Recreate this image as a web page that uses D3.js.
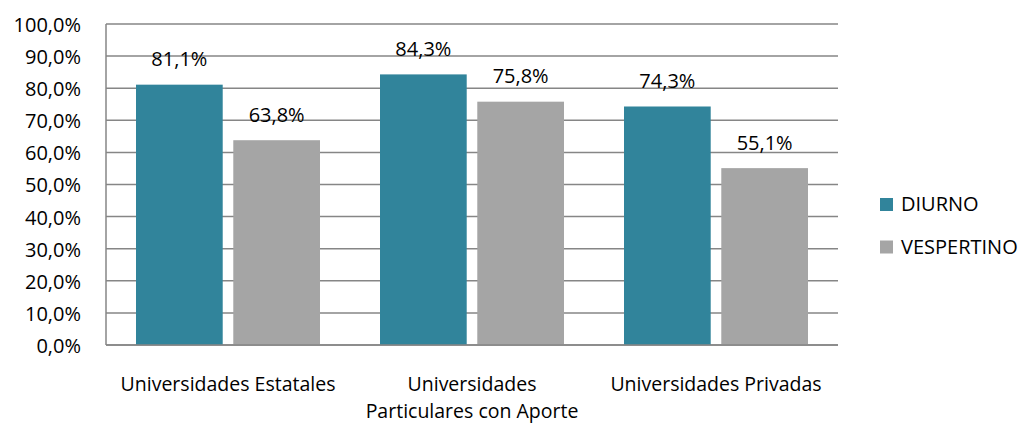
<!DOCTYPE html>
<html><head><meta charset="utf-8">
<script src="https://cdn.jsdelivr.net/npm/d3@7"></script>
<style>body{margin:0;background:#fff}svg{display:block}text{font-family:"Open Sans",sans-serif;fill:#000}</style>
</head><body>
<svg id="c" width="1023" height="423"></svg>
<script>
const categories = [["Universidades Estatales"], ["Universidades", "Particulares con Aporte"], ["Universidades Privadas"]];
const seriesNames = ["DIURNO", "VESPERTINO"];
const diurno = [81.1, 84.3, 74.3];
const vespertino = [63.8, 75.8, 55.1];
const yTicks = [0, 10, 20, 30, 40, 50, 60, 70, 80, 90, 100];
const colors = ["#31849B", "#A5A5A5"];

const FS = 20;
const svg = d3.select("#c");
const L = 106, R = 838, T = 24, B = 345;
const fmt = v => v.toFixed(1).replace(".", ",") + "%";
const x0 = d3.scaleBand().domain(d3.range(categories.length)).range([L, R]).paddingInner(0).paddingOuter(0);
const x1 = d3.scaleBand().domain(seriesNames).range([30, x0.bandwidth() - 30]).paddingInner(20 / 184);
const y = d3.scaleLinear().domain([0, 100]).range([B, T]);

// gridlines
svg.append("g").selectAll("line").data(yTicks).join("line")
  .attr("x1", L).attr("x2", R).attr("y1", d => y(d)).attr("y2", d => y(d))
  .attr("stroke", "#868686").attr("stroke-width", 1.5);
svg.append("line").attr("x1", L).attr("x2", L).attr("y1", T).attr("y2", B).attr("stroke", "#868686").attr("stroke-width", 1.5);

// y labels
const yAxis = d3.axisLeft(y).tickValues(yTicks).tickFormat(fmt).tickSize(0).tickPadding(0);
const ga = svg.append("g").attr("transform", `translate(81,1)`).call(yAxis);
ga.select(".domain").remove();
ga.selectAll("text").attr("font-size", FS).attr("font-family", "Open Sans").attr("fill", "#000");

const data = categories.map((c, i) => ({ i, vals: [diurno[i], vespertino[i]] }));
const g = svg.append("g").selectAll("g").data(data).join("g").attr("transform", d => `translate(${x0(d.i)},0)`);
g.selectAll("rect").data(d => d.vals.map((v, k) => ({ k, v }))).join("rect")
  .attr("x", d => x1(seriesNames[d.k])).attr("width", x1.bandwidth())
  .attr("y", d => y(d.v)).attr("height", d => B - y(d.v)).attr("fill", d => colors[d.k]);
g.selectAll("text.lbl").data(d => d.vals.map((v, k) => ({ k, v }))).join("text").attr("class", "lbl")
  .attr("x", d => x1(seriesNames[d.k]) + x1.bandwidth() / 2).attr("y", d => y(d.v) - 18.5)
  .attr("text-anchor", "middle").attr("font-size", FS).text(d => fmt(d.v));

svg.append("line").attr("x1", L).attr("x2", R).attr("y1", B).attr("y2", B).attr("stroke", "#868686").attr("stroke-width", 1.5);

// category labels
const cl = svg.append("g").selectAll("text").data(categories).join("text")
  .attr("x", (d, i) => x0(i) + x0.bandwidth() / 2).attr("y", 391)
  .attr("text-anchor", "middle").attr("font-size", 19.5);
cl.selectAll("tspan").data(d => d).join("tspan")
  .attr("x", function () { return d3.select(this.parentNode).attr("x"); })
  .attr("dy", (d, j) => j === 0 ? 0 : 26.5).text(d => d);

// legend
const lg = svg.append("g").selectAll("g").data(seriesNames).join("g")
  .attr("transform", (d, i) => `translate(880,${198 + i * 42.5})`);
lg.append("rect").attr("width", 13).attr("height", 13).attr("fill", (d, i) => colors[i]);
lg.append("text").attr("x", 21).attr("y", 13).attr("font-size", FS).text(d => d);
</script>
</body></html>
